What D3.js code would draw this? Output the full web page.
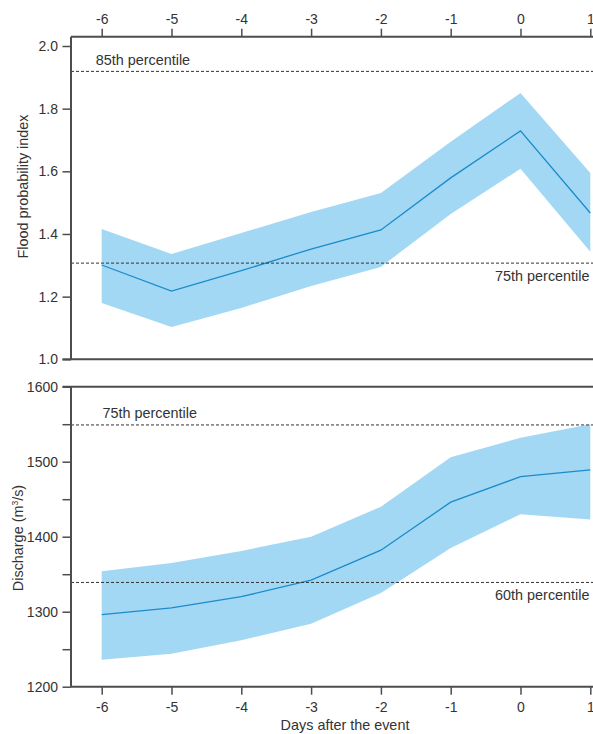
<!DOCTYPE html>
<html>
<head>
<meta charset="utf-8">
<script src="https://cdn.jsdelivr.net/npm/d3@7"></script>
<style>
  body { margin: 0; background: #fff; }
  svg text { font-family: "Liberation Sans", Arial, sans-serif; fill: #333; }
</style>
</head>
<body>
<div id="chart"></div>
<script>
const width = 593;
const height = 734;

// Data
const days = [-6, -5, -4, -3, -2, -1, 0, 1];

const floodMean  = [1.301, 1.218, 1.283, 1.352, 1.413, 1.579, 1.729, 1.467];
const floodUpper = [1.416, 1.336, 1.403, 1.470, 1.531, 1.694, 1.850, 1.595];
const floodLower = [1.180, 1.103, 1.164, 1.234, 1.295, 1.464, 1.608, 1.343];

const dischargeMean  = [1296, 1305, 1320, 1342, 1382, 1446, 1480, 1489];
const dischargeUpper = [1354, 1365, 1381, 1400, 1440, 1506, 1532, 1550];
const dischargeLower = [1236, 1244, 1262, 1284, 1325, 1385, 1430, 1423];

const floodTicks = [1.0, 1.2, 1.4, 1.6, 1.8, 2.0];
const dischargeTicks = [1200, 1250, 1300, 1350, 1400, 1450, 1500, 1550, 1600];

const floodRefs = [
  { value: 1.919, label: "85th percentile", pos: "above-left" },
  { value: 1.307, label: "75th percentile", pos: "below-right" }
];
const dischargeRefs = [
  { value: 1549, label: "75th percentile", pos: "above-left" },
  { value: 1339, label: "60th percentile", pos: "below-right" }
];

const axisColor = "#4d4d4d";
const bandColor = "#a3d8f5";
const lineColor = "#1a8bcb";
const labelSize = "14.4px";
const tickSize = "14px";

const svg = d3.select("#chart")
  .append("svg")
  .attr("width", width)
  .attr("height", height);

const left = 71;
const right = width;

const x = d3.scaleLinear()
  .domain([-6, 1])
  .range([101.7, 590.3]);

const dayFormat = d => String(d);

function panel(opts) {
  const y = d3.scaleLinear()
    .domain(opts.domain)
    .range(opts.range);

  const g = svg.append("g");

  // band
  g.append("path")
    .datum(days.map((d, i) => ({ d, lo: opts.lower[i], hi: opts.upper[i] })))
    .attr("fill", bandColor)
    .attr("d", d3.area()
      .x(p => x(p.d))
      .y0(p => y(p.lo))
      .y1(p => y(p.hi)));

  // mean line
  g.append("path")
    .datum(days.map((d, i) => ({ d, v: opts.mean[i] })))
    .attr("fill", "none")
    .attr("stroke", lineColor)
    .attr("stroke-width", 1.3)
    .attr("d", d3.line()
      .x(p => x(p.d))
      .y(p => y(p.v)));

  // percentile lines
  opts.refs.forEach(r => {
    g.append("line")
      .attr("x1", left)
      .attr("x2", right)
      .attr("y1", y(r.value))
      .attr("y2", y(r.value))
      .attr("stroke", "#333")
      .attr("stroke-width", 1)
      .attr("stroke-dasharray", "3,2");
    const above = r.pos === "above-left";
    g.append("text")
      .attr("x", above ? opts.labelLeft : 589.5)
      .attr("y", above ? y(r.value) - 6.5 : y(r.value) + 17.8)
      .attr("text-anchor", above ? "start" : "end")
      .style("font-size", labelSize)
      .text(r.label);
  });

  // left axis
  const yAxis = d3.axisLeft(y)
    .tickValues(opts.ticks)
    .tickSize(8.5)
    .tickPadding(4.5)
    .tickFormat(opts.format);
  const ya = g.append("g")
    .attr("transform", `translate(${left},0)`)
    .call(yAxis);
  ya.select(".domain").remove();
  ya.selectAll(".tick line").attr("stroke", axisColor).attr("stroke-width", 1.5);
  ya.selectAll(".tick text").style("font-size", tickSize).attr("fill", "#333");
  g.append("line")
    .attr("x1", left).attr("x2", left)
    .attr("y1", opts.frameTop).attr("y2", opts.frameBottom)
    .attr("stroke", axisColor).attr("stroke-width", 2);

  // y title
  g.append("text")
    .attr("transform", `translate(${opts.titleX},${opts.titleY}) rotate(-90)`)
    .attr("text-anchor", "middle")
    .style("font-size", labelSize)
    .html(opts.title);

  return { g, y };
}

// upper panel
const floodPanel = panel({
  domain: [1.0, 2.0],
  range: [359.3, 46],
  mean: floodMean, upper: floodUpper, lower: floodLower,
  refs: floodRefs,
  ticks: floodTicks,
  format: d3.format(".1f"),
  frameTop: 36.7, frameBottom: 359.3,
  labelLeft: 95.7,
  title: "Flood probability index",
  titleX: 27.5, titleY: 186.5
});

const topAxis = svg.append("g")
  .attr("transform", "translate(0,36.7)")
  .call(d3.axisTop(x).tickValues(days).tickSize(8).tickPadding(4.5).tickFormat(dayFormat));
topAxis.select(".domain").remove();
topAxis.selectAll(".tick line").attr("stroke", axisColor).attr("stroke-width", 1.5);
topAxis.selectAll(".tick text").style("font-size", tickSize).attr("fill", "#333");
svg.append("line")
  .attr("x1", left).attr("x2", right).attr("y1", 36.7).attr("y2", 36.7)
  .attr("stroke", axisColor).attr("stroke-width", 2);
svg.append("line")
  .attr("x1", left - 8.5).attr("x2", right).attr("y1", 359.3).attr("y2", 359.3)
  .attr("stroke", axisColor).attr("stroke-width", 2);

// lower panel
const dischargePanel = panel({
  domain: [1200, 1600],
  range: [686.7, 386.7],
  mean: dischargeMean, upper: dischargeUpper, lower: dischargeLower,
  refs: dischargeRefs,
  ticks: dischargeTicks,
  format: d => d % 100 === 0 ? d : "",
  frameTop: 386.7, frameBottom: 686.7,
  labelLeft: 102.5,
  title: 'Discharge (m<tspan dy="-5" style="font-size:8.5px">3</tspan><tspan dy="5">/s)</tspan>',
  titleX: 23, titleY: 538
});

svg.append("line")
  .attr("x1", left - 8.5).attr("x2", right).attr("y1", 386.7).attr("y2", 386.7)
  .attr("stroke", axisColor).attr("stroke-width", 2);

const bottomAxis = svg.append("g")
  .attr("transform", "translate(0,686.7)")
  .call(d3.axisBottom(x).tickValues(days).tickSize(8).tickPadding(7).tickFormat(dayFormat));
bottomAxis.select(".domain").remove();
bottomAxis.selectAll(".tick line").attr("stroke", axisColor).attr("stroke-width", 1.5);
bottomAxis.selectAll(".tick text").style("font-size", tickSize).attr("fill", "#333");
svg.append("line")
  .attr("x1", left).attr("x2", right).attr("y1", 686.7).attr("y2", 686.7)
  .attr("stroke", axisColor).attr("stroke-width", 2);

svg.append("text")
  .attr("x", 345)
  .attr("y", 729.5)
  .attr("text-anchor", "middle")
  .style("font-size", labelSize)
  .text("Days after the event");
</script>
</body>
</html>
